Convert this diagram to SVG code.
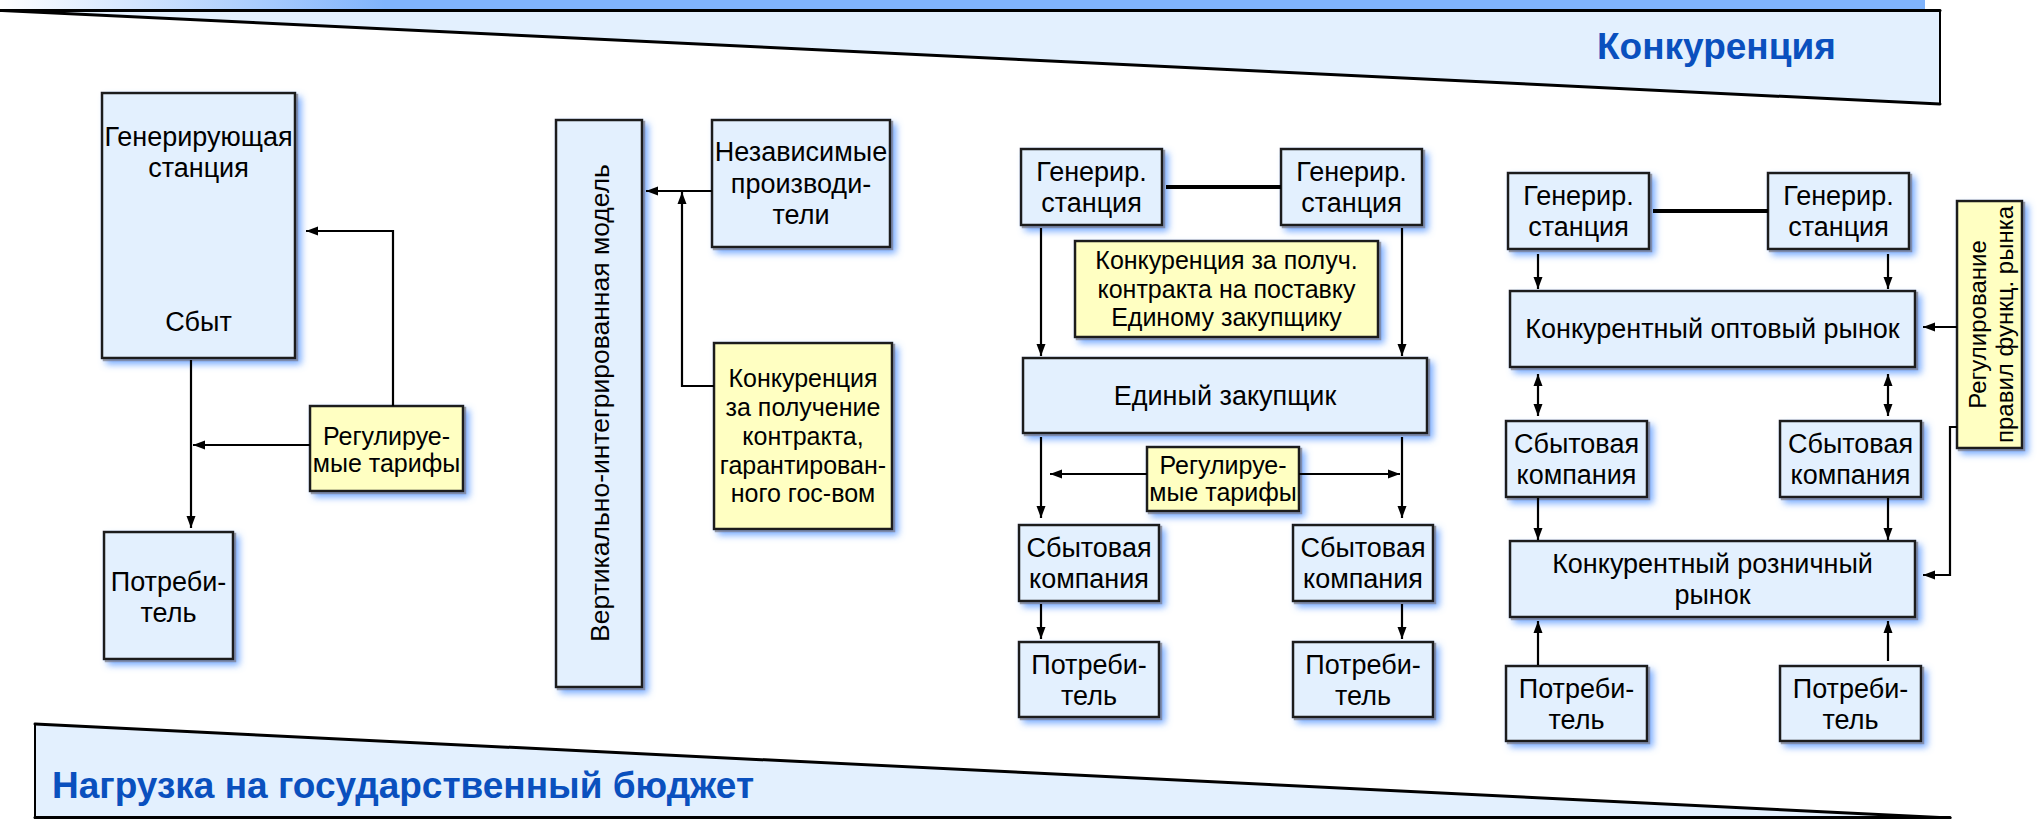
<svg xmlns="http://www.w3.org/2000/svg" width="2039" height="819" viewBox="0 0 2039 819">
  <defs>
    <linearGradient id="topBar" x1="0" y1="0" x2="1" y2="0">
      <stop offset="0" stop-color="#ffffff"/>
      <stop offset="0.2" stop-color="#80b4fc"/>
      <stop offset="1" stop-color="#80b4fc"/>
    </linearGradient>
    <filter id="glow" x="-0.2" y="-0.2" width="1.5" height="1.5">
      <feGaussianBlur in="SourceAlpha" stdDeviation="3.5" result="blur"/>
      <feOffset in="blur" dx="5" dy="5" result="off"/>
      <feFlood flood-color="#5e9cff" flood-opacity="0.85"/>
      <feComposite in2="off" operator="in" result="blue"/>
      <feOffset in="SourceAlpha" dx="1.5" dy="1.5" result="hard"/>
      <feFlood flood-color="#777777" flood-opacity="0.7"/>
      <feComposite in2="hard" operator="in" result="grey"/>
      <feMerge>
        <feMergeNode in="blue"/>
        <feMergeNode in="grey"/>
        <feMergeNode in="SourceGraphic"/>
      </feMerge>
    </filter>
    <filter id="soft" x="-0.05" y="-0.5" width="1.1" height="2">
      <feGaussianBlur stdDeviation="0.6"/>
    </filter>
    <marker id="arr" markerUnits="userSpaceOnUse" markerWidth="13" markerHeight="10" refX="12" refY="5" orient="auto-start-reverse">
      <path d="M0,0.5 L12,5 L0,9.5 Z" fill="#000"/>
    </marker>
  </defs>
  <style>
    .box { fill: #e3f0fe; stroke: #1a1a1a; stroke-width: 2.5; filter: url(#glow); }
    .note { fill: #ffffc2; stroke: #1a1a1a; stroke-width: 2.5; filter: url(#glow); }
    .t { font-family: "Liberation Sans", Arial, sans-serif; font-size: 27px; fill: #000; text-anchor: middle; }
    .tn { font-family: "Liberation Sans", Arial, sans-serif; font-size: 25px; fill: #000; text-anchor: middle; }
    .tv { font-family: "Liberation Sans", Arial, sans-serif; font-size: 24px; fill: #000; text-anchor: middle; }
    .head { font-family: "Liberation Sans", Arial, sans-serif; font-size: 37px; font-weight: bold; fill: #0a50be; }
    .band { fill: #e3f0fe; stroke: none; }
    .edge { fill: none; stroke: #000; stroke-linecap: round; }
    .ca { fill: none; stroke: #000; stroke-width: 2.2; marker-end: url(#arr); }
    .cb { fill: none; stroke: #000; stroke-width: 2.2; marker-start: url(#arr); marker-end: url(#arr); }
    .link { fill: none; stroke: #000; stroke-width: 4; }
  </style>

  <!-- top band: competition wedge -->
  <g id="band-top">
    <rect x="0" y="0" width="1925" height="9" fill="url(#topBar)"/>
    <polygon class="band" points="0,10.5 1940,10.5 1940,104"/>
    <path class="edge" d="M0,10.5 H1940" stroke-width="3"/>
    <path class="edge" d="M1940,10.5 V104" stroke-width="2"/>
    <path class="edge" d="M2,10.5 L1940,104" stroke-width="3" filter="url(#soft)"/>
    <text class="head" x="1597" y="59">Конкуренция</text>
  </g>

  <!-- bottom band: state budget wedge -->
  <g id="band-bottom">
    <polygon class="band" points="35,724 35,818 1950,818"/>
    <path class="edge" d="M35,724 V818" stroke-width="2"/>
    <path class="edge" d="M35,817.5 H1950" stroke-width="3"/>
    <path class="edge" d="M35,724 L1950,818" stroke-width="3" filter="url(#soft)"/>
    <text class="head" x="52" y="798">Нагрузка на государственный бюджет</text>
  </g>

  <!-- model 1: monopoly -->
  <g id="gen-station">
    <rect class="box" x="102" y="93" width="193" height="265"/>
    <text class="t" x="198.5" y="146">Генерирующая</text>
    <text class="t" x="198.5" y="177">станция</text>
    <text class="t" x="198.5" y="331">Сбыт</text>
  </g>
  <g id="consumer-1">
    <rect class="box" x="104" y="532" width="129" height="127"/>
    <text class="t" x="168.5" y="591">Потреби-</text>
    <text class="t" x="168.5" y="622">тель</text>
  </g>
  <g id="tariffs-1">
    <rect class="note" x="310" y="406" width="153" height="85"/>
    <text class="tn" x="386.5" y="445">Регулируе-</text>
    <text class="tn" x="386.5" y="472">мые тарифы</text>
  </g>

  <!-- model 2: vertically integrated -->
  <g id="vertical-model">
    <rect class="box" x="556" y="120" width="86" height="567"/>
    <text class="t" style="font-size:26.5px" transform="translate(609,403) rotate(-90)" x="0" y="0">Вертикально-интегрированная модель</text>
  </g>
  <g id="independent">
    <rect class="box" x="712" y="120" width="178" height="127"/>
    <text class="t" x="801" y="161">Независимые</text>
    <text class="t" x="801" y="193">производи-</text>
    <text class="t" x="801" y="224">тели</text>
  </g>
  <g id="contract-competition">
    <rect class="note" x="714" y="343" width="178" height="186"/>
    <text class="tn" x="803" y="387">Конкуренция</text>
    <text class="tn" x="803" y="416">за получение</text>
    <text class="tn" x="803" y="445">контракта,</text>
    <text class="tn" x="803" y="474">гарантирован-</text>
    <text class="tn" x="803" y="502">ного гос-вом</text>
  </g>

  <!-- model 3: single buyer -->
  <g id="gen-3a">
    <rect class="box" x="1021" y="149" width="141" height="76"/>
    <text class="t" x="1091.5" y="181">Генерир.</text>
    <text class="t" x="1091.5" y="212">станция</text>
  </g>
  <g id="gen-3b">
    <rect class="box" x="1281" y="149" width="141" height="76"/>
    <text class="t" x="1351.5" y="181">Генерир.</text>
    <text class="t" x="1351.5" y="212">станция</text>
  </g>
  <g id="supply-competition">
    <rect class="note" x="1075" y="241" width="303" height="96"/>
    <text class="tn" x="1226.5" y="269">Конкуренция за получ.</text>
    <text class="tn" x="1226.5" y="298">контракта на поставку</text>
    <text class="tn" x="1226.5" y="326">Единому закупщику</text>
  </g>
  <g id="single-buyer">
    <rect class="box" x="1023" y="358" width="404" height="75"/>
    <text class="t" x="1225" y="405">Единый закупщик</text>
  </g>
  <g id="tariffs-3">
    <rect class="note" x="1147" y="447" width="152" height="64"/>
    <text class="tn" x="1223" y="474">Регулируе-</text>
    <text class="tn" x="1223" y="501">мые тарифы</text>
  </g>
  <g id="sales-3a">
    <rect class="box" x="1019" y="525" width="140" height="76"/>
    <text class="t" x="1089" y="557">Сбытовая</text>
    <text class="t" x="1089" y="588">компания</text>
  </g>
  <g id="sales-3b">
    <rect class="box" x="1293" y="525" width="140" height="76"/>
    <text class="t" x="1363" y="557">Сбытовая</text>
    <text class="t" x="1363" y="588">компания</text>
  </g>
  <g id="consumer-3a">
    <rect class="box" x="1019" y="642" width="140" height="75"/>
    <text class="t" x="1089" y="674">Потреби-</text>
    <text class="t" x="1089" y="705">тель</text>
  </g>
  <g id="consumer-3b">
    <rect class="box" x="1293" y="642" width="140" height="75"/>
    <text class="t" x="1363" y="674">Потреби-</text>
    <text class="t" x="1363" y="705">тель</text>
  </g>

  <!-- model 4: competitive markets -->
  <g id="gen-4a">
    <rect class="box" x="1508" y="173" width="141" height="76"/>
    <text class="t" x="1578.5" y="205">Генерир.</text>
    <text class="t" x="1578.5" y="236">станция</text>
  </g>
  <g id="gen-4b">
    <rect class="box" x="1768" y="173" width="141" height="76"/>
    <text class="t" x="1838.5" y="205">Генерир.</text>
    <text class="t" x="1838.5" y="236">станция</text>
  </g>
  <g id="wholesale">
    <rect class="box" x="1510" y="291" width="405" height="76"/>
    <text class="t" x="1712.5" y="338">Конкурентный оптовый рынок</text>
  </g>
  <g id="sales-4a">
    <rect class="box" x="1506" y="421" width="141" height="76"/>
    <text class="t" x="1576.5" y="453">Сбытовая</text>
    <text class="t" x="1576.5" y="484">компания</text>
  </g>
  <g id="sales-4b">
    <rect class="box" x="1780" y="421" width="141" height="76"/>
    <text class="t" x="1850.5" y="453">Сбытовая</text>
    <text class="t" x="1850.5" y="484">компания</text>
  </g>
  <g id="retail">
    <rect class="box" x="1510" y="541" width="405" height="76"/>
    <text class="t" x="1712.5" y="573">Конкурентный розничный</text>
    <text class="t" x="1712.5" y="604">рынок</text>
  </g>
  <g id="consumer-4a">
    <rect class="box" x="1506" y="666" width="141" height="75"/>
    <text class="t" x="1576.5" y="698">Потреби-</text>
    <text class="t" x="1576.5" y="729">тель</text>
  </g>
  <g id="consumer-4b">
    <rect class="box" x="1780" y="666" width="141" height="75"/>
    <text class="t" x="1850.5" y="698">Потреби-</text>
    <text class="t" x="1850.5" y="729">тель</text>
  </g>
  <g id="market-rules">
    <rect class="note" x="1957" y="201" width="65" height="247"/>
    <text class="tv" transform="translate(1986,324.5) rotate(-90)" x="0" y="0">Регулирование</text>
    <text class="tv" transform="translate(2013,324.5) rotate(-90)" x="0" y="0">правил функц. рынка</text>
  </g>

  <!-- connectors -->
  <g id="connectors">
    <path class="ca" d="M191,360 V528"/>
    <path class="ca" d="M310,445 H193"/>
    <path class="ca" d="M393,406 V231 H306"/>

    <path class="ca" d="M712,191 H646"/>
    <path class="ca" d="M714,386 H682 V192"/>

    <path class="link" d="M1166,187 H1281"/>
    <path class="ca" d="M1041,228 V356"/>
    <path class="ca" d="M1402,228 V356"/>
    <path class="ca" d="M1041,437 V518"/>
    <path class="ca" d="M1402,437 V518"/>
    <path class="ca" d="M1147,474 H1050"/>
    <path class="ca" d="M1299,474 H1400"/>
    <path class="ca" d="M1041,604 V639"/>
    <path class="ca" d="M1402,604 V639"/>

    <path class="link" d="M1653,211 H1768"/>
    <path class="ca" d="M1538,254 V289"/>
    <path class="ca" d="M1888,254 V289"/>
    <path class="cb" d="M1538,374 V416"/>
    <path class="cb" d="M1888,374 V416"/>
    <path class="ca" d="M1538,498 V540"/>
    <path class="ca" d="M1888,498 V540"/>
    <path class="ca" d="M1538,665 V621"/>
    <path class="ca" d="M1888,661 V621"/>
    <path class="ca" d="M1957,327 H1923"/>
    <path class="ca" d="M1957,427 H1950 V575 H1923"/>
  </g>
</svg>
